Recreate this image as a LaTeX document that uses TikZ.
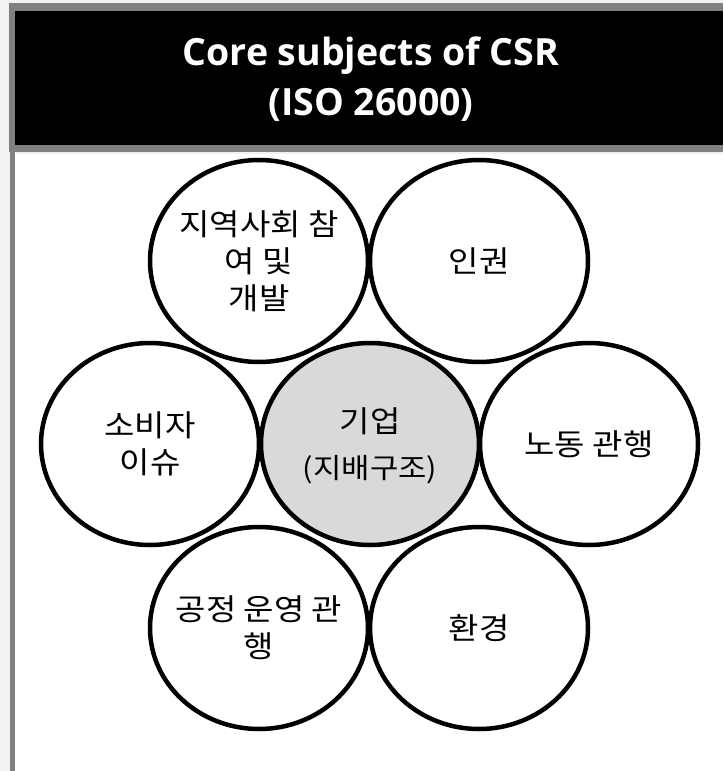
\documentclass[tikz,border=0pt]{standalone}
\usepackage{fontspec}
\setmainfont{Noto Sans CJK KR}[FakeStretch=1.1]
\newfontfamily\titlefont{Open Sans}
\usetikzlibrary{shapes.geometric}
\definecolor{bggray}{HTML}{F2F2F2}
\definecolor{framegray}{HTML}{808080}
\definecolor{coregray}{HTML}{D9D9D9}
\begin{document}
\begin{tikzpicture}[x=1pt,y=-1pt,
  subject/.style={ellipse, draw=black, line width=4.5pt, minimum width=218pt, minimum height=202pt, inner sep=0pt},
  subjtext/.style={font=\fontsize{30}{37}\selectfont, align=center, text=black, inner sep=0pt},
  titletext/.style={font=\titlefont\bfseries\fontsize{37.5}{50}\selectfont, align=center, text=white}]
\useasboundingbox (0,0) rectangle (723,771);
\fill[bggray] (0,0) rectangle (723,771);
\fill[framegray] (9,3) rectangle (723,152);
\fill[black] (15,11) rectangle (723,145);
\fill[white] (15,154) rectangle (723,771);
\fill[framegray] (10,152) rectangle (15,771);
\node[titletext] (title) at (371,79) {Core subjects of CSR\\(ISO 26000)};

\node[subject, fill=coregray] (core) at (370,444) {};
\node[subject] (community) at (259,261) {};
\node[subject] (rights) at (479,261) {};
\node[subject] (consumer) at (150,444) {};
\node[subject] (labour) at (589,444) {};
\node[subject] (fair) at (259,628) {};
\node[subject] (env) at (479,628) {};

\node[subjtext] (tcore) at (370,446) {기업\\[9pt]\fontsize{28}{37}\selectfont(지배구조)};
\node[subjtext] (tcommunity) at (community) {지역사회 참\\여 및\\개발};
\node[subjtext] (trights) at (rights) {인권};
\node[subjtext] (tconsumer) at (consumer) {소비자\\이슈};
\node[subjtext] (tlabour) at (labour) {노동 관행};
\node[subjtext] (tfair) at (fair) {공정 운영 관\\행};
\node[subjtext] (tenv) at (env) {환경};
\end{tikzpicture}
\end{document}
